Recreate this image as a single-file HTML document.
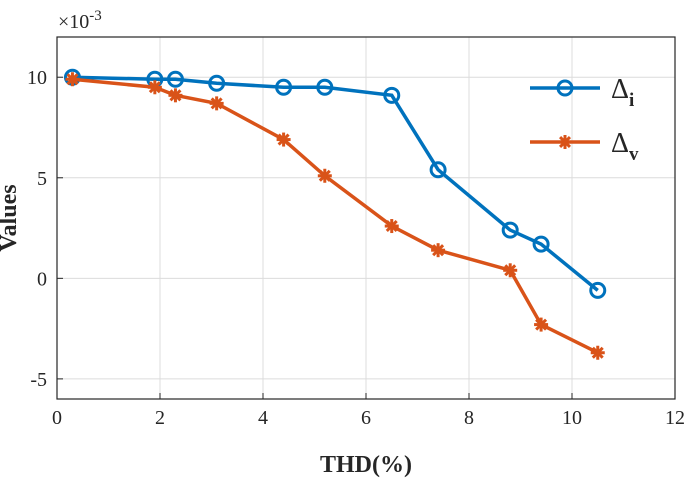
<!DOCTYPE html>
<html><head><meta charset="utf-8"><style>
body{margin:0;background:#fff;}
svg{display:block;font-family:"Liberation Serif",serif;}
</style></head><body>
<svg id="chart" width="685" height="483"></svg>
<script>
const xValues=[0.3,1.9,2.3,3.1,4.4,5.2,6.5,7.4,8.8,9.4,10.5];
const deltaI=[10,9.9,9.9,9.7,9.5,9.5,9.1,5.4,2.4,1.7,-0.6];
const deltaV=[9.9,9.5,9.1,8.7,6.9,5.1,2.6,1.4,0.4,-2.3,-3.7];
const xTicks=[0,2,4,6,8,10,12];
const yTicks=[-5,0,5,10];

const NS="http://www.w3.org/2000/svg";
const svg=document.getElementById('chart');
const L=57,R=675,T=37,B=399;
const xs=v=>L+(v-0)/12*(R-L);
const ys=v=>B-(v+6)/18*(B-T);
function mk(tag,attrs,parent){const e=document.createElementNS(NS,tag);for(const k in attrs)e.setAttribute(k,attrs[k]);(parent||svg).appendChild(e);return e;}

const grid=mk('g',{});


xTicks.forEach(t=>{if(t>0&&t<12)mk('line',{x1:xs(t),x2:xs(t),y1:T,y2:B,stroke:'#dcdcdc','stroke-width':1},grid);});
yTicks.forEach(t=>mk('line',{x1:L,x2:R,y1:ys(t),y2:ys(t),stroke:'#dcdcdc','stroke-width':1},grid));

const ax=mk('rect',{x:L,y:T,width:R-L,height:B-T,fill:'none',stroke:'#262626','stroke-width':1.2});



xTicks.forEach(t=>{
  mk('line',{x1:xs(t),x2:xs(t),y1:B,y2:B-6,stroke:'#262626'});
  const tx=mk('text',{x:xs(t),y:B+25,'text-anchor':'middle','font-size':20,fill:'#262626'});
  tx.textContent=t;
  
  
});
yTicks.forEach(t=>{
  mk('line',{x1:L,x2:L+6,y1:ys(t),y2:ys(t),stroke:'#262626'});
  const tx=mk('text',{x:L-10,y:ys(t)+7,'text-anchor':'end','font-size':20,fill:'#262626'});
  tx.textContent=t;
  
  
});
const ex=mk('text',{x:58,y:28,'font-size':20,fill:'#262626'});
ex.innerHTML='×10<tspan dy="-8" font-size="15">-3</tspan>';



const xt=mk('text',{x:366,y:472,'text-anchor':'middle','font-size':24,'font-weight':'bold',fill:'#262626'});
xt.textContent='THD(%)';


const yt=mk('text',{x:16,y:218,'text-anchor':'middle','font-size':24,'font-weight':'bold',fill:'#262626',transform:'rotate(-90 16 218)'});
yt.textContent='Values';



function star(g,cx,cy,c){
  for(let a=0;a<4;a++){const ang=a*Math.PI/4;const r=7;
    mk('line',{x1:cx-r*Math.cos(ang),y1:cy-r*Math.sin(ang),x2:cx+r*Math.cos(ang),y2:cy+r*Math.sin(ang),stroke:c,'stroke-width':3},g);}
}
function series(vals,c,marker,name){
  const g=mk('g',{});
  
  
  mk('polyline',{points:vals.map((v,i)=>xs(xValues[i])+','+ys(v)).join(' '),fill:'none',stroke:c,'stroke-width':3.5},g);
  vals.forEach((v,i)=>{
    if(marker==='o')mk('circle',{cx:xs(xValues[i]),cy:ys(v),r:7,fill:'none',stroke:c,'stroke-width':3},g);
    else star(g,xs(xValues[i]),ys(v),c);
  });
}
series(deltaI,'#0072bd','o','series-delta-i');
series(deltaV,'#d95319','*','series-delta-v');

const lg=mk('g',{});


mk('line',{x1:530,x2:600,y1:88,y2:88,stroke:'#0072bd','stroke-width':3.5},lg);
mk('circle',{cx:565,cy:88,r:7,fill:'none',stroke:'#0072bd','stroke-width':3},lg);
const l1=mk('text',{x:611,y:98,'font-size':28,fill:'#262626'},lg);
l1.innerHTML='Δ<tspan dy="8" font-size="19" font-weight="bold">i</tspan>';


mk('line',{x1:530,x2:600,y1:142,y2:142,stroke:'#d95319','stroke-width':3.5},lg);
star(lg,565,142,'#d95319');
const l2=mk('text',{x:611,y:152,'font-size':28,fill:'#262626'},lg);
l2.innerHTML='Δ<tspan dy="8" font-size="19" font-weight="bold">v</tspan>';


</script>
</body></html>
